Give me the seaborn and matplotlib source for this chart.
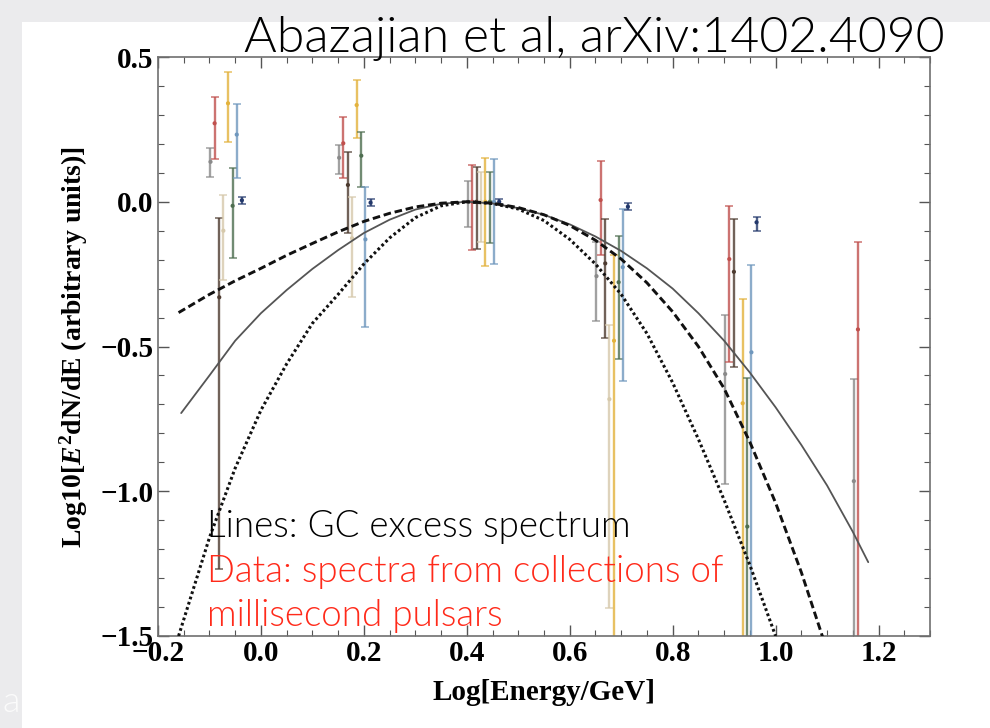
import numpy as np
import pandas as pd
import matplotlib
matplotlib.use("Agg")
import matplotlib.pyplot as plt
from matplotlib.patches import Rectangle
from matplotlib.ticker import MultipleLocator, FuncFormatter
import seaborn as sns

# ---------------------------------------------------------------- data
# log10(E/GeV) bin centres and the small horizontal offset of each pulsar collection
log_energy_bins = [-0.10, 0.15, 0.40, 0.65, 0.90, 1.15]
collection_offsets = [0.002, 0.010, 0.019, 0.027, 0.036, 0.045, 0.053, 0.063]
collection_colors = ["#8a8a8a", "#c0504d", "#4d3b30", "#d6c9ab",
                     "#e3b23c", "#4e6e50", "#6f97bd", "#23386b"]

# spectra of the MSP collections: central value, lower and upper end of the error bar
gray_mid = [0.138, 0.152, 0.0, -0.257, -0.595, -0.965]
gray_lo = [0.084, 0.095, -0.086, -0.412, -0.976, -2.0]
gray_hi = [0.185, 0.196, 0.073, -0.138, -0.391, -0.613]

red_mid = [0.271, 0.202, 0.0, 0.006, -0.198, -0.441]
red_lo = [0.149, 0.083, -0.167, -0.184, -0.555, -2.0]
red_hi = [0.363, 0.294, 0.127, 0.142, -0.014, -0.138]

brown_mid = [-0.330, 0.058, 0.0, -0.213, -0.242, np.nan]
brown_lo = [-1.27, -0.109, -0.163, -0.472, -0.570, np.nan]
brown_hi = [-0.057, 0.173, 0.121, -0.060, -0.060, np.nan]

beige_mid = [-0.100, -0.126, 0.0, -0.682, np.nan, np.nan]
beige_lo = [-0.27, -0.330, -0.138, -1.404, np.nan, np.nan]
beige_hi = [0.023, 0.017, 0.104, -0.426, np.nan, np.nan]

yellow_mid = [0.340, 0.334, 0.0, -0.480, -0.696, np.nan]
yellow_lo = [0.207, 0.219, -0.222, -2.0, -2.0, np.nan]
yellow_hi = [0.447, 0.421, 0.152, -0.184, -0.336, np.nan]

green_mid = [-0.014, 0.159, 0.0, -0.278, -1.122, np.nan]
green_lo = [-0.193, 0.050, -0.141, -0.543, -2.0, np.nan]
green_hi = [0.116, 0.242, 0.104, -0.118, -0.610, np.nan]

blue_mid = [0.232, -0.130, 0.0, -0.226, -0.520, np.nan]
blue_lo = [0.083, -0.433, -0.216, -0.619, -2.0, np.nan]
blue_hi = [0.338, 0.050, 0.148, -0.025, -0.218, np.nan]

navy_mid = [0.005, -0.003, 0.0, -0.017, -0.071, np.nan]
navy_lo = [-0.008, -0.013, -0.008, -0.030, -0.101, np.nan]
navy_hi = [0.017, 0.008, 0.008, -0.005, -0.054, np.nan]

# GC excess spectral shapes
dashed_x = [-0.16, -0.10, -0.05, 0.00, 0.05, 0.10, 0.15, 0.20, 0.25, 0.30, 0.35, 0.40,
            0.45, 0.50, 0.55, 0.60, 0.65, 0.70, 0.75, 0.80, 0.85, 0.90, 0.95, 1.00,
            1.05, 1.10]
dashed_y = [-0.383, -0.320, -0.273, -0.230, -0.185, -0.144, -0.104, -0.068, -0.040,
            -0.018, -0.005, 0.0, -0.005, -0.020, -0.045, -0.082, -0.133, -0.198,
            -0.280, -0.380, -0.500, -0.645, -0.830, -1.040, -1.280, -1.550]

solid_x = [-0.155, -0.10, -0.05, 0.00, 0.05, 0.10, 0.15, 0.20, 0.25, 0.30, 0.35, 0.40,
           0.45, 0.50, 0.55, 0.60, 0.65, 0.70, 0.75, 0.80, 0.85, 0.90, 0.95, 1.00,
           1.05, 1.10, 1.15, 1.18]
solid_y = [-0.730, -0.600, -0.480, -0.385, -0.305, -0.232, -0.167, -0.108, -0.062,
           -0.027, -0.007, 0.0, -0.006, -0.022, -0.045, -0.078, -0.120, -0.170,
           -0.230, -0.300, -0.385, -0.480, -0.590, -0.710, -0.840, -0.980, -1.140,
           -1.245]

dotted_x = [-0.16, -0.10, -0.05, 0.00, 0.05, 0.10, 0.15, 0.20, 0.25, 0.30, 0.35, 0.40,
            0.45, 0.50, 0.55, 0.60, 0.65, 0.70, 0.75, 0.80, 0.85, 0.90, 0.95, 1.00]
dotted_y = [-1.500, -1.160, -0.920, -0.720, -0.560, -0.420, -0.320, -0.215, -0.125,
            -0.055, -0.014, 0.0, -0.006, -0.025, -0.065, -0.130, -0.215, -0.320,
            -0.455, -0.625, -0.820, -1.030, -1.255, -1.500]

collections = [
    (gray_mid, gray_lo, gray_hi),
    (red_mid, red_lo, red_hi),
    (brown_mid, brown_lo, brown_hi),
    (beige_mid, beige_lo, beige_hi),
    (yellow_mid, yellow_lo, yellow_hi),
    (green_mid, green_lo, green_hi),
    (blue_mid, blue_lo, blue_hi),
    (navy_mid, navy_lo, navy_hi),
]

# ---------------------------------------------------------------- style
sns.set_theme(style="ticks")
plt.rcParams["font.family"] = ["Liberation Serif", "DejaVu Serif"]
plt.rcParams["mathtext.fontset"] = "custom"
plt.rcParams["mathtext.rm"] = "Liberation Serif:bold"
plt.rcParams["mathtext.it"] = "Liberation Serif:italic:bold"

W, H = 990, 728
fig = plt.figure(figsize=(W / 100, H / 100), dpi=100)
fig.patch.set_facecolor("#ebebed")
fig.patches.append(Rectangle((22 / W, 0), 1 - 22 / W, 1 - 22 / H,
                             transform=fig.transFigure, facecolor="white",
                             edgecolor="none", zorder=-5))

ax = fig.add_axes([158 / W, (H - 636) / H, 772 / W, 579 / H], zorder=2)
ax.set_facecolor("white")
ax.set_xlim(-0.2, 1.3)
ax.set_ylim(-1.5, 0.5)

# error bars and central points of each collection
for (mid, lo, hi), off, col in zip(collections, collection_offsets, collection_colors):
    xs = np.array(log_energy_bins) + off
    mid = np.array(mid, float)
    lo = np.array(lo, float)
    hi = np.array(hi, float)
    ok = ~np.isnan(mid)
    ax.errorbar(xs[ok], mid[ok], yerr=[mid[ok] - lo[ok], hi[ok] - mid[ok]],
                fmt="none", ecolor=col, elinewidth=1.7, capsize=3.2,
                capthick=1.1, alpha=0.8, zorder=2)
    pts = pd.DataFrame({"x": xs[ok], "y": mid[ok]})
    sns.scatterplot(data=pts, x="x", y="y", ax=ax, color=col, s=9,
                    edgecolor="none", zorder=3, legend=False)

# spectral shapes
sns.lineplot(x=solid_x, y=solid_y, ax=ax, color="#555555", lw=1.3,
             sort=False, estimator=None, zorder=4)
sns.lineplot(x=dashed_x, y=dashed_y, ax=ax, color="#111111", lw=2.1,
             linestyle=(0, (2.6, 1.3)), sort=False, estimator=None, zorder=4)
sns.lineplot(x=dotted_x, y=dotted_y, ax=ax, color="#111111", lw=2.2,
             linestyle=(0, (0.9, 0.9)), sort=False, estimator=None, zorder=4)

# frame and ticks
for sp in ax.spines.values():
    sp.set_color("#707070")
    sp.set_linewidth(1.2)
ax.xaxis.set_major_locator(MultipleLocator(0.2))
ax.xaxis.set_minor_locator(MultipleLocator(0.05))
ax.yaxis.set_major_locator(MultipleLocator(0.5))
ax.yaxis.set_minor_locator(MultipleLocator(0.1))
fmt = FuncFormatter(lambda v, p: ("%.1f" % v).replace("-", "\u2212"))
ax.xaxis.set_major_formatter(fmt)
ax.yaxis.set_major_formatter(fmt)
ax.tick_params(which="both", direction="in", top=True, right=True,
               color="#555555", labelsize=21, pad=3, labelcolor="black")
ax.tick_params(which="major", length=8, width=1.0)
ax.tick_params(which="minor", length=4, width=0.8)
for lab in ax.get_xticklabels() + ax.get_yticklabels():
    lab.set_fontweight("bold")

ax.set_xlabel("Log[Energy/GeV]", fontsize=21, color="black", fontweight="bold")
ax.xaxis.set_label_coords(0.5, -0.075)
ax.set_ylabel(r"Log10[$E^2$dN/dE (arbitrary units)]", fontsize=20, color="black",
              fontweight="bold")
ax.yaxis.set_label_coords(-0.088, 0.5)

# annotations
sans = ["Lato", "DejaVu Sans"]
fig.text(945 / W, 1 - 52 / H, "Abazajian et al, arXiv:1402.4090", ha="right",
         va="baseline", fontsize=36, family=sans, fontweight=300, color="black",
         zorder=5)
fig.text(207 / W, 1 - 537 / H, "Lines: GC excess spectrum", ha="left",
         va="baseline", fontsize=26.5, family=sans, fontweight=300, color="black",
         zorder=5)
fig.text(207 / W, 1 - 582 / H, "Data: spectra from collections of", ha="left",
         va="baseline", fontsize=26.5, family=sans, fontweight=300, color="#ff2a1a",
         zorder=5)
fig.text(207 / W, 1 - 626 / H, "millisecond pulsars", ha="left",
         va="baseline", fontsize=26.5, family=sans, fontweight=300, color="#ff2a1a",
         zorder=5)
fig.text(2 / W, 1 - 712 / H, "a", ha="left", va="baseline", fontsize=26,
         family=sans, fontweight=300, color="#fbfbfb", zorder=5)

fig.savefig("out.png", dpi=100, facecolor=fig.get_facecolor())
